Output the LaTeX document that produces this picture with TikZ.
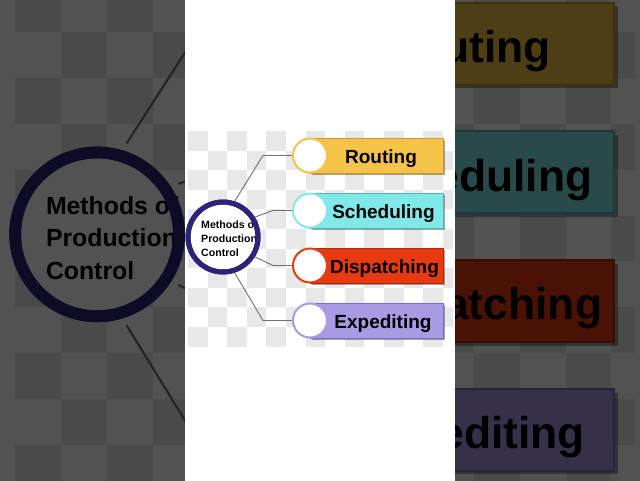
\documentclass[tikz,border=0pt]{standalone}
\usepackage{fontspec}
\setmainfont{Liberation Sans}
\usetikzlibrary{shadows,calc}
\definecolor{navy}{HTML}{2C2478}
\definecolor{rfill}{HTML}{F5C347}
\definecolor{rdraw}{HTML}{C99A2E}
\definecolor{sfill}{HTML}{80E8E8}
\definecolor{sdraw}{HTML}{4FB5B5}
\definecolor{dfill}{HTML}{E83A10}
\definecolor{ddraw}{HTML}{A82A08}
\definecolor{efill}{HTML}{A99BE3}
\definecolor{edraw}{HTML}{7D6DC0}
\definecolor{chk}{HTML}{E8E8E8}
\definecolor{linkc}{HTML}{707070}
\def\lwf{1}
\tikzset{
  ring/.style={draw=navy, line width=\lwf*5pt},
  hub/.style={circle, fill=white, minimum size=70pt, inner sep=0pt, ring},
  hubtext/.style={font=\bfseries\fontsize{10.6}{13.9}\selectfont, align=left, anchor=west, inner sep=0pt},
  box/.style={rectangle, minimum width=133pt, minimum height=35pt, anchor=west, inner sep=0pt,
    line width=\lwf*0.8pt, drop shadow={shadow xshift=\lwf*1.6pt, shadow yshift=-\lwf*1.6pt, opacity=0.35, fill=black}},
  knob/.style={circle, fill=white, minimum size=34pt, inner sep=0pt, line width=\lwf*2pt},
  boxlabel/.style={font=\bfseries\fontsize{19}{21}\selectfont, inner sep=0pt, anchor=base},
  link/.style={draw=linkc, line width=\lwf*0.9pt},
}
\newcommand\drawdiagram{%
  \begin{scope}
    \clip (188,131) rectangle (453,346);
    \fill[white] (188,131) rectangle (453,346);
    \foreach \i in {0,...,13}{\foreach \j in {0,...,10}{%
      \pgfmathtruncatemacro\pp{mod(\i+\j,2)}%
      \ifnum\pp=0 \fill[chk] (188+\i*19.6,131+\j*19.6) rectangle ++(19.6,19.6);\fi}}
  \end{scope}
  \node[hub] (c) at (223,237) {};
  \node[hubtext] (ct) at (201,238.5) {Methods of\\Production\\Control};
  \draw[ring] (c.center) circle[radius=35];
  % boxes
  \node[box, fill=rfill, draw=rdraw] (rb) at (310,155.5) {};
  \node[knob, draw=rfill] (rk) at (310,155.5) {};
  \node[boxlabel] (rt) at (381,163.5) {Routing};
  \node[box, fill=sfill, draw=sdraw] (sb) at (310,210.5) {};
  \node[knob, draw=sfill] (sk) at (310,210.5) {};
  \node[boxlabel] (st) at (383.5,218.5) {Scheduling};
  \node[box, fill=dfill, draw=ddraw] (db) at (310,265.5) {};
  \node[knob, draw=dfill] (dk) at (310,265.5) {};
  \node[boxlabel] (dt) at (384.5,273.5) {Dispatching};
  \node[box, fill=efill, draw=edraw] (eb) at (310,320.5) {};
  \node[knob, draw=efill] (ek) at (310,320.5) {};
  \node[boxlabel] (et) at (383,328.5) {Expediting};
  % connectors
  \coordinate (k1) at (263,155.5);
  \coordinate (k2) at (273,210.5);
  \coordinate (k3) at (273,265.5);
  \coordinate (k4) at (263,320.5);
  \draw[link] (c.72) -- (k1) -- (rk.west);
  \draw[link] (c.32) -- (k2) -- (sk.west);
  \draw[link] (c.-32) -- (k3) -- (dk.west);
  \draw[link] (c.-72) -- (k4) -- (ek.west);
}
\begin{document}
\begin{tikzpicture}[x=1pt,y=-1pt]
  \useasboundingbox (0,0) rectangle (640,480);
  \clip (0,0) rectangle (640,480);
  \fill[white] (-10,-10) rectangle (650,490);
  % enlarged, darkened copy behind
  \begin{scope}[name prefix=bg-, scale around={2.34:(317,239)}, transform shape]
    \def\lwf{2.34}
    \drawdiagram
  \end{scope}
  \fill[black, opacity=0.68] (-10,-10) rectangle (650,490);
  % central panel
  \fill[white] (185,-10) rectangle (455,490);
  \drawdiagram
\end{tikzpicture}
\end{document}
